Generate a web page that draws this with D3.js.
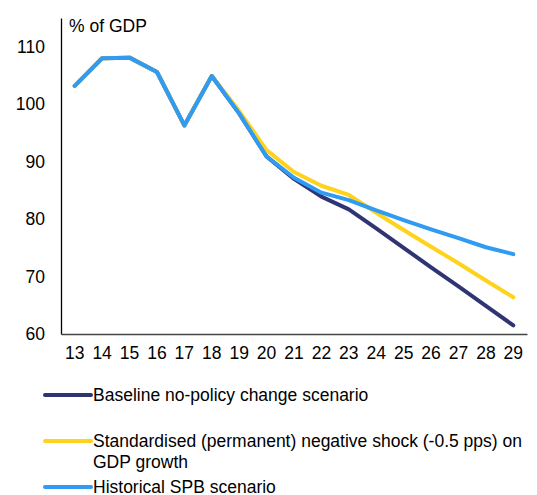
<!DOCTYPE html>
<html>
<head>
<meta charset="utf-8">
<script src="https://cdn.jsdelivr.net/npm/d3@7"></script>
<style>
  body { margin: 0; background: #fff; }
  text { font-family: "Liberation Sans", Arial, sans-serif; fill: #000; }
</style>
</head>
<body>
<svg id="chart" width="537" height="495"></svg>
<script>
// categories (years) and series values
var years = ["13","14","15","16","17","18","19","20","21","22","23","24","25","26","27","28","29"];
var baseline   = [103.2,108.0,108.1,105.6,96.3,104.9,98.4,90.9,87.0,83.9,81.7,78.4,75.0,71.6,68.3,64.9,61.5];
var shock      = [103.2,108.0,108.1,105.6,96.3,104.9,98.8,92.0,88.2,85.8,84.2,81.1,78.1,75.2,72.3,69.3,66.4];
var historical = [103.2,108.0,108.1,105.6,96.3,104.9,98.4,90.9,87.2,84.6,83.3,81.5,79.8,78.2,76.7,75.1,73.9];
var yTicks = [60, 70, 80, 90, 100, 110];
var seriesNames = ["Baseline no-policy change scenario",
  "Standardised (permanent) negative shock (-0.5 pps) on GDP growth",
  "Historical SPB scenario"];

var colors = ["#2f3572", "#ffd21c", "#2f9bf2"];
var series = [baseline, shock, historical];

var svg = d3.select("#chart");

// plot area
var plotLeft = 61, plotRight = 527, plotTop = 18, plotBottom = 334;
var fontSize = "17.5px";

var x = d3.scaleBand().domain(years).range([plotLeft, plotRight]);
var y = d3.scaleLinear().domain([60, 115]).range([plotBottom, plotTop]);

// axes
var yAxis = svg.append("g")
  .attr("transform", "translate(" + plotLeft + ",0)")
  .call(d3.axisLeft(y).tickValues(yTicks).tickSize(0).tickPadding(16));
yAxis.select(".domain").attr("stroke", "#000").attr("stroke-width", 1.3);
yAxis.selectAll("text").style("font-size", fontSize).attr("fill", "#000");

var xAxis = svg.append("g")
  .attr("transform", "translate(0," + plotBottom + ")")
  .call(d3.axisBottom(x).tickSize(0).tickPadding(13));
xAxis.select(".domain").attr("stroke", "#444").attr("stroke-width", 1.3);
xAxis.selectAll("text").style("font-size", fontSize).attr("fill", "#000");

svg.append("text")
  .attr("x", 69).attr("y", 32)
  .style("font-size", fontSize)
  .text("% of GDP");

// lines
var line = d3.line()
  .x(function(d, i) { return x(years[i]) + x.bandwidth() / 2; })
  .y(function(d) { return y(d); });

series.forEach(function(s, i) {
  svg.append("path")
    .datum(s)
    .attr("d", line)
    .attr("fill", "none")
    .attr("stroke", colors[i])
    .attr("stroke-width", 4)
    .attr("stroke-linecap", "round")
    .attr("stroke-linejoin", "round");
});

// legend
var legendY = [395, 441, 487];
var legend = svg.append("g");
seriesNames.forEach(function(name, i) {
  legend.append("line")
    .attr("x1", 45).attr("x2", 91)
    .attr("y1", legendY[i]).attr("y2", legendY[i])
    .attr("stroke", colors[i])
    .attr("stroke-width", 4)
    .attr("stroke-linecap", "round");
  var t = legend.append("text")
    .attr("x", 93).attr("y", legendY[i] + 6)
    .style("font-size", fontSize);
  if (i === 1) {
    t.append("tspan").attr("x", 93).text("Standardised (permanent) negative shock (-0.5 pps) on");
    t.append("tspan").attr("x", 93).attr("dy", 21).text("GDP growth");
  } else {
    t.text(name);
  }
});
</script>
</body>
</html>
